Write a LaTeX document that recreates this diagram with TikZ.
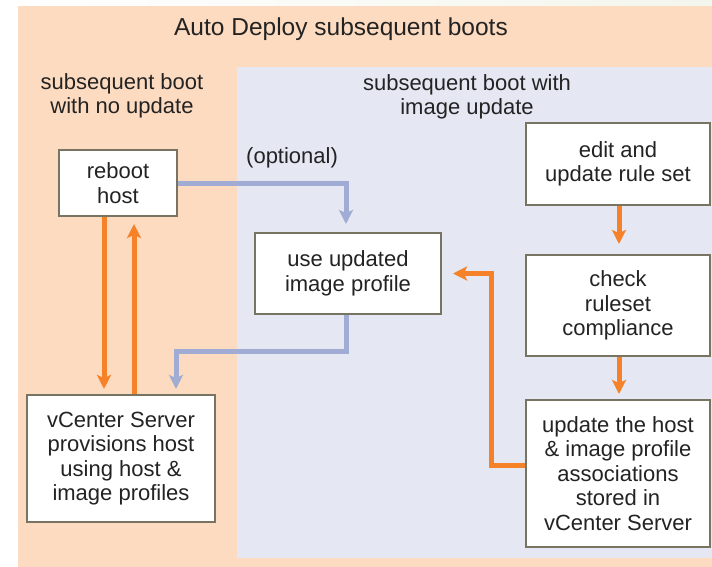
\documentclass[tikz,border=0pt]{standalone}
\usepackage{fontspec}
\setmainfont{Liberation Sans}
\usetikzlibrary{arrows.meta, calc}
\definecolor{peach}{RGB}{253,219,192}
\definecolor{paleblue}{RGB}{229,232,243}
\definecolor{paper}{RGB}{243,246,236}
\definecolor{bootorange}{RGB}{245,130,40}
\definecolor{bootblue}{RGB}{160,172,212}
\definecolor{boxline}{RGB}{120,116,98}
\definecolor{ink}{RGB}{35,35,35}
\tikzstyle{bootbox} = [rectangle, draw=boxline, line width=2pt, fill=white, text=ink, align=center, inner sep=0pt, font=\fontsize{22}{24.5}\selectfont]
\tikzstyle{heading} = [text=ink, align=center, inner sep=0pt, font=\fontsize{22}{24}\selectfont]
\tikzstyle{orangearrow} = [line width=5pt, draw=bootorange, -{Stealth[length=14pt, width=14pt, inset=3pt]}]
\tikzstyle{bluearrow} = [line width=5pt, draw=bootblue, -{Stealth[length=14pt, width=14pt, inset=3pt]}]

\begin{document}
\begin{tikzpicture}[x=1pt, y=-1pt]
  \useasboundingbox (0,0) rectangle (712,566);
  % backgrounds
  \shade [left color=white, right color=paper] (0,0) rectangle (712,566);
  \fill [peach] (18,6) rectangle (720,570);
  \fill [paleblue] (237,67) rectangle (720,558);
  % headings
  \node (title) [heading, anchor=base, font=\fontsize{24.5}{28}\selectfont] at (341,35) {Auto Deploy subsequent boots};
  \node (noupdate) [heading] at (122,96) {subsequent boot\\with no update};
  \node (withupdate) [heading] at (467,97) {subsequent boot with\\image update};
  % boxes
  \node (reboot) [bootbox, minimum width=118pt, minimum height=66pt] at (118,183) {reboot\\host};
  \node (use) [bootbox, minimum width=186pt, minimum height=81pt] at (348,273.5) {use updated\\image profile};
  \node (edit) [bootbox, minimum width=184pt, minimum height=82pt] at (618,164) {edit and\\update rule set};
  \node (check) [bootbox, minimum width=184pt, minimum height=101pt] at (618,305.5) {check\\ruleset\\compliance};
  \node (update) [bootbox, minimum width=184pt, minimum height=147pt] at (618,473.5) {update the host\\\& image profile\\associations\\stored in\\vCenter Server};
  \node (vcenter) [bootbox, minimum width=188pt, minimum height=127pt] at (121,458.5) {vCenter Server\\provisions host\\using host \&\\image profiles};
  \node (optional) [heading, anchor=base west] at (246,163) {(optional)};
  % connectors
  \draw [orangearrow, shorten >=5pt] ([xshift=-14pt]reboot.south) -- ([xshift=-14pt]reboot.south |- vcenter.north);
  \draw [orangearrow, shorten >=7pt] ([xshift=16pt]reboot.south |- vcenter.north) -- ([xshift=16pt]reboot.south);
  \draw [bluearrow, shorten >=8pt] (reboot.east) -| ([xshift=-2pt]use.north);
  \draw let \p1 = ([xshift=-2pt]use.south), \p2 = ([xshift=55pt]vcenter.north) in [bluearrow, shorten >=5pt] (\p1) -- (\x1, 351) -- (\x2, 351) -- (\p2);
  \draw [orangearrow, shorten >=10pt] ([xshift=1pt]edit.south) -- ([xshift=1pt]check.north);
  \draw [orangearrow, shorten >=5pt] ([xshift=1pt]check.south) -- ([xshift=1pt]update.north);
  \draw let \p1 = ([yshift=8pt]update.west) in [orangearrow, shorten >=11pt] (\p1) -- (491, \y1) |- (use.east);
\end{tikzpicture}
\end{document}
